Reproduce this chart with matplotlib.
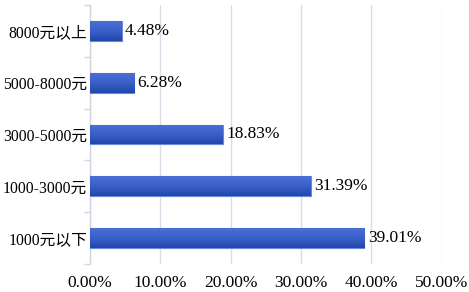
import numpy as np
import matplotlib.pyplot as plt
from matplotlib.ticker import FixedLocator
from matplotlib.colors import LinearSegmentedColormap

plt.rcParams['font.family'] = ['Liberation Serif', 'Noto Sans CJK SC']

categories = ["1000元以下", "1000-3000元", "3000-5000元", "5000-8000元", "8000元以上"]
values = [39.01, 31.39, 18.83, 6.28, 4.48]
xticks = [0, 10, 20, 30, 40, 50]
xticklabels = ["0.00%", "10.00%", "20.00%", "30.00%", "40.00%", "50.00%"]

fig = plt.figure(figsize=(4.69, 2.92), dpi=100)
ax = fig.add_axes([0.192, 0.096, 0.75, 0.887])

y = np.arange(len(categories))
bars = ax.barh(y, values, height=0.38, color="#3458c0", edgecolor="#6a88dc", linewidth=0.8, zorder=3)

# gradient fill inside each bar
grad = np.linspace(0, 1, 50).reshape(-1, 1)
cmap = LinearSegmentedColormap.from_list("b", ["#2147aa", "#3a60c8", "#4a6fd4"])
for b in bars:
    x0, y0 = b.get_x(), b.get_y()
    w, h = b.get_width(), b.get_height()
    im = ax.imshow(grad, extent=[x0, x0 + w, y0, y0 + h], aspect="auto", cmap=cmap,
                   origin="lower", zorder=3.5)
    im.set_clip_path(b)

for yi, v in zip(y, values):
    ax.text(v + 0.5, yi, f"{v:.2f}%", va="center", ha="left", fontsize=12.5, color="#000000", zorder=4)

ax.set_xlim(0, 50)
ax.set_ylim(-0.5, len(categories) - 0.5)
ax.set_xticks(xticks)
ax.set_xticklabels(xticklabels, fontsize=12.5)
ax.set_yticks(y)
ax.set_yticklabels(categories, fontsize=11.3)
ax.tick_params(axis="x", length=0, pad=8)
ax.tick_params(axis="y", which="major", length=0, pad=2)
ax.yaxis.set_minor_locator(FixedLocator(np.arange(-0.5, len(categories), 1.0)))
ax.tick_params(axis="y", which="minor", length=4, color="#d0d5e0", width=1)

ax.grid(axis="x", color="#d9dde8", linewidth=1, zorder=0)
for s in ["top", "right", "bottom"]:
    ax.spines[s].set_visible(False)
ax.spines["left"].set_color("#d0d5e0")
ax.spines["left"].set_linewidth(1)

fig.savefig("out.png", dpi=100)
